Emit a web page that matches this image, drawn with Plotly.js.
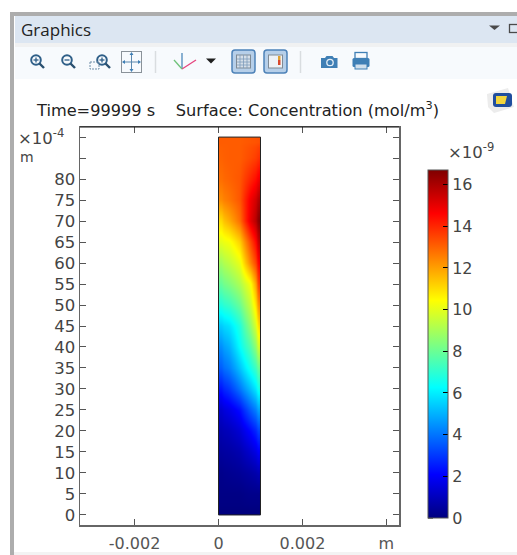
<!DOCTYPE html>
<html>
<head>
<meta charset="utf-8">
<script src="https://cdn.plot.ly/plotly-3.0.1.min.js"></script>
<style>html,body{margin:0;padding:0;background:#fff}#chart{width:517px;height:555px}</style>
</head>
<body>
<div id="chart"></div>
<script>
const chartTitle = 'Time=99999 s\u00a0\u00a0\u00a0\u00a0Surface: Concentration (mol/m<sup>3</sup>)';
const panelName = 'Graphics';
const xPositions = [0, 0.00025, 0.0005, 0.00075, 0.001];
const yPositions = [0,5,10,15,20,25,30,35,40,45,50,55,60,65,70,75,80,85,90];
const col0 = [0,0.1,0.2,0.5,0.8,1.3,2.4,3.6,4.4,5.4,6.8,7.9,8.9,10,11,12.3,12.8,13,13.1];
const col1 = [0,0.1,0.3,0.6,1,1.7,3,4.2,5,5.8,7.2,8.4,9.4,10.3,11.8,12.7,13,13.1,13.1];
const col2 = [0,0.1,0.4,0.8,1.4,2.3,4,5.3,6.3,6.8,8,9.1,10.1,11.2,12.8,13.2,13.2,13.1,13.1];
const col3 = [0,0.2,0.6,1.3,2.2,3.6,5.2,6.6,7.6,8.6,9.5,10.3,12.4,13.4,15,14.8,14,13.4,13.2];
const col4 = [0,0.2,0.9,2,3.2,4.8,6.6,8,9.7,11,12.3,13.6,14.6,15.6,16.6,15.9,14.8,13.8,13.3];
const xTickVals = [-0.002,0,0.002,0.004];
const xTickText = ['-0.002','0','0.002','m'];
const yTickVals = [0,5,10,15,20,25,30,35,40,45,50,55,60,65,70,75,80];
const yTickText = ['0','5','10','15','20','25','30','35','40','45','50','55','60','65','70','75','80'];
const yUnlabelledTicks = [85,90];
const cbTicks = [0,2,4,6,8,10,12,14,16];
const zMin = 0, zMax = 16.7;
const jet = [[0,'#00007f'],[0.125,'#0000ff'],[0.375,'#00ffff'],[0.625,'#ffff00'],[0.875,'#ff0000'],[1,'#7f0000']];

const W = 517, H = 555;
const zRows = yPositions.map((_, i) => [col0[i], col1[i], col2[i], col3[i], col4[i]]);
const fontMain = 'DejaVu Sans, Verdana, sans-serif';
// cell edges so the smoothed field ends exactly on the domain boundary
const edges = a => [a[0]].concat(a.slice(1).map((v, i) => (v + a[i]) / 2), [a[a.length - 1]]);

const ic = '#2f5f88';
function glass(x, y, sym) {
  return `<circle cx="${x}" cy="${y}" r="4.8" fill="none" stroke="${ic}" stroke-width="2"/>`+
    `<line x1="${x+3.5}" y1="${y+3.5}" x2="${x+8}" y2="${y+8}" stroke="#2a5070" stroke-width="2.4"/>`+
    `<line x1="${x-2.5}" y1="${y}" x2="${x+2.5}" y2="${y}" stroke="${ic}" stroke-width="1.3"/>`+
    (sym ? `<line x1="${x}" y1="${y-2.5}" x2="${x}" y2="${y+2.5}" stroke="${ic}" stroke-width="1.3"/>` : '');
}
const chrome = `<svg xmlns="http://www.w3.org/2000/svg" width="${W}" height="${H}" viewBox="0 0 ${W} ${H}">
<rect x="0" y="0" width="${W}" height="${H}" fill="#ffffff"/>
<rect x="10" y="12" width="507" height="4" fill="#adadad"/>
<rect x="10" y="12" width="4" height="543" fill="#adadad"/>
<rect x="15" y="16" width="502" height="27" fill="#dce6f2"/>
<rect x="15" y="43" width="502" height="4" fill="#f0f1f2"/>
<rect x="15" y="47" width="502" height="32" fill="#f7fafd"/>
<rect x="14" y="552" width="503" height="3" fill="#f3f3f3"/>
${glass(36,60,true)}${glass(67,60,false)}${glass(102,60,true)}
<rect x="90" y="62" width="9" height="7" fill="none" stroke="#6f8ea8" stroke-width="1" stroke-dasharray="2 1"/>
<rect x="121.500" y="51.500" width="20" height="21" fill="#f7fafd" stroke="#8a9299"/>
<path d="M131.500 53V71M123 62H140" stroke="#5b87ad" stroke-width="1" fill="none"/>
<path d="M131.500 52l-2 3h4zM131.500 72l-2 -3h4zM122 62l3 -2v4zM141 62l-3 -2v4z" fill="#3f7fb5"/>
<line x1="155.500" y1="51" x2="155.500" y2="73" stroke="#d9dde0" stroke-width="1.500"/>
<line x1="182" y1="69" x2="182" y2="53" stroke="#3f7fb5" stroke-width="1.200"/>
<line x1="182" y1="69" x2="196" y2="60" stroke="#e6447e" stroke-width="1.300"/>
<line x1="182" y1="69" x2="174" y2="60" stroke="#6fc27a" stroke-width="1.300"/>
<path d="M206 58.500h10l-5 5z" fill="#1f1f1f"/>
<rect x="232" y="50" width="23" height="23" rx="3" fill="#b6cfe9" stroke="#4d82b8" stroke-width="1.500"/>
<rect x="236.500" y="55" width="14" height="13" fill="#d6dfe8" stroke="#7f8b96"/>
<path d="M240 55v13M243.500 55v13M247 55v13M237 59h13M237 62h13M237 65h13" stroke="#7f9cbb" stroke-width="0.800"/>
<rect x="264" y="50" width="23" height="23" rx="3" fill="#b6cfe9" stroke="#4d82b8" stroke-width="1.500"/>
<rect x="268.500" y="55" width="14" height="13" fill="#eef2f6" stroke="#7f8b96"/>
<rect x="278" y="56" width="2.500" height="4" fill="#e0a030"/><rect x="278" y="60" width="2.500" height="5" fill="#d9482c"/>
<line x1="300.500" y1="51" x2="300.500" y2="73" stroke="#d9dde0" stroke-width="1.500"/>
<path d="M321 58h4l1.500 -2h6l1.500 2h3.500v10h-16.500z" fill="#3f7fb5"/>
<circle cx="330" cy="62.500" r="3.200" fill="#3f7fb5" stroke="#e4eef7" stroke-width="1.300"/>
<rect x="355" y="52.500" width="12" height="6" fill="#f7fafd" stroke="#3f7fb5" stroke-width="1.300"/>
<rect x="352.500" y="58" width="17" height="9" rx="1.500" fill="#3f7fb5"/>
<rect x="355" y="64" width="12" height="5" fill="#d0dfec" stroke="#3f7fb5"/>
<path d="M489 25.500h11l-5.500 4.500z" fill="#4a4a4a"/>
<rect x="509.500" y="24.500" width="9" height="8" fill="none" stroke="#4a4a4a" stroke-width="1.300"/>
<path d="M487 94l21 -6l6 19l-20 6l-6 -6z" fill="#ececec"/>
<rect x="493" y="93" width="19" height="14" rx="3" fill="#1f4e9e"/>
<path d="M496 96h11l-2 8h-9z" fill="#f2d53c"/>
</svg>`;

const colorbarLeft = 428, colorbarRight = 448, colorbarTop = 170, colorbarBottom = 518;
const cbY = v => (H - colorbarBottom + (v - zMin) / (zMax - zMin) * (colorbarBottom - colorbarTop)) / H;
const cbLeftTicks = cbTicks.map(v => ({
  type: 'line', xref: 'paper', yref: 'paper',
  x0: colorbarLeft / W, x1: (colorbarLeft + 5) / W, y0: cbY(v), y1: cbY(v),
  line: {color: '#000', width: 1}, layer: 'above'
}));

const data = [{
  type: 'heatmap',
  x: edges(xPositions), y: edges(yPositions), z: zRows,
  zsmooth: 'best', zmin: zMin, zmax: zMax,
  colorscale: jet, hoverinfo: 'skip',
  colorbar: {
    thickness: colorbarRight - colorbarLeft, thicknessmode: 'pixels',
    len: colorbarBottom - colorbarTop, lenmode: 'pixels',
    x: colorbarLeft / W, xanchor: 'left', xref: 'paper',
    y: (H - colorbarBottom) / H, yanchor: 'bottom', yref: 'paper', ypad: 0, xpad: 0,
    tickmode: 'array', tickvals: cbTicks, ticktext: cbTicks.map(String),
    ticks: 'inside', ticklen: 5, tickcolor: '#000', tickwidth: 1,
    tickfont: {family: fontMain, size: 16, color: '#444'},
    outlinecolor: '#555', outlinewidth: 1, borderwidth: 0
  }
}];

const layout = {
  width: W, height: H,
  margin: {l: 0, r: 0, t: 0, b: 0},
  paper_bgcolor: '#fff', plot_bgcolor: 'rgba(0,0,0,0)',
  showlegend: false,
  font: {family: fontMain, color: '#444'},
  title: {
    text: chartTitle, font: {family: fontMain, size: 16.2, color: '#222'},
    x: 37 / W, xanchor: 'left', xref: 'paper',
    y: (H - 110.5) / H, yanchor: 'middle', yref: 'paper', automargin: false
  },
  xaxis: {
    domain: [80 / W, 399 / W],
    range: [-0.0033, 0.0043],
    tickmode: 'array', tickvals: xTickVals, ticktext: xTickText,
    ticks: 'inside', ticklen: 6, tickcolor: '#555',
    ticklabelstandoff: 3,
    showgrid: false, zeroline: false,
    showline: true, linecolor: '#666', linewidth: 1.5, mirror: 'allticks',
    tickfont: {family: fontMain, size: 16, color: '#555'}
  },
  yaxis: {
    domain: [(H - 525) / H, (H - 127) / H],
    range: [-2.4, 92.4],
    tickmode: 'array', tickvals: yTickVals, ticktext: yTickText,
    minor: {tickmode: 'array', tickvals: yUnlabelledTicks, ticks: 'inside', ticklen: 6, tickcolor: '#555', showgrid: false},
    ticks: 'inside', ticklen: 6, tickcolor: '#555',
    showgrid: false, zeroline: false,
    showline: true, linecolor: '#666', linewidth: 1.5, mirror: 'allticks',
    tickfont: {family: fontMain, size: 16.5, color: '#444'}
  },
  images: [{
    source: 'data:image/svg+xml;charset=utf-8,' + encodeURIComponent(chrome),
    xref: 'paper', yref: 'paper', x: 0, y: 1, sizex: 1, sizey: 1,
    xanchor: 'left', yanchor: 'top', sizing: 'stretch', layer: 'below'
  }],
  shapes: [{
    type: 'rect', xref: 'x', yref: 'y',
    x0: xPositions[0], x1: xPositions[xPositions.length - 1],
    y0: yPositions[0], y1: yPositions[yPositions.length - 1],
    line: {color: '#222', width: 1}, fillcolor: 'rgba(0,0,0,0)', layer: 'above'
  }, {
    type: 'line', xref: 'x domain', yref: 'y domain', x0: 0, x1: 1, y0: 1, y1: 1,
    line: {color: '#111', width: 1.2}, layer: 'above'
  }].concat(cbLeftTicks),
  annotations: [
    {text: panelName, xref: 'paper', yref: 'paper', x: 19 / W, y: (H - 29) / H, xanchor: 'left', yanchor: 'middle', showarrow: false,
     font: {family: 'Open Sans, Noto Sans, sans-serif', size: 17, color: '#222'}},
    {text: '×10<sup>-4</sup>', xref: 'paper', yref: 'paper', x: 16 / W, y: (H - 137) / H, xanchor: 'left', yanchor: 'middle', showarrow: false,
     font: {family: fontMain, size: 16.5, color: '#444'}},
    {text: 'm', xref: 'paper', yref: 'paper', x: 18 / W, y: (H - 157) / H, xanchor: 'left', yanchor: 'middle', showarrow: false,
     font: {family: fontMain, size: 14, color: '#444'}},
    {text: '×10<sup>-9</sup>', xref: 'paper', yref: 'paper', x: 446 / W, y: (H - 151) / H, xanchor: 'left', yanchor: 'middle', showarrow: false,
     font: {family: fontMain, size: 16.5, color: '#444'}}
  ]
};

Plotly.newPlot('chart', data, layout, {displayModeBar: false, staticPlot: true});
</script>
</body>
</html>
